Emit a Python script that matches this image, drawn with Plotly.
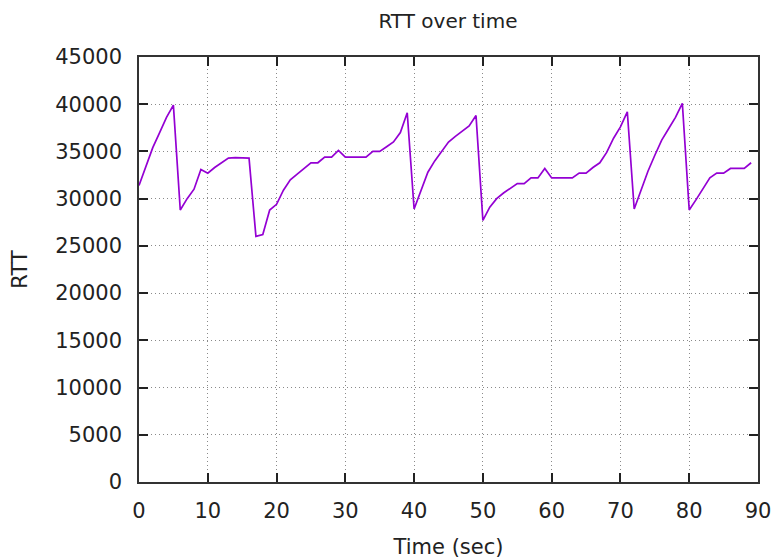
import plotly.graph_objects as go

time_sec = list(range(0, 90))
rtt = [
    31400, 33500, 35400, 37000, 38600, 39900, 28800, 30000, 31000, 33100,
    32700, 33300, 33800, 34300, 34350, 34350, 34300, 26000, 26200, 28800,
    29400, 30900, 32000, 32600, 33200, 33800, 33800, 34400, 34400, 35100,
    34400, 34400, 34400, 34400, 35000, 35000, 35500, 36000, 37000, 39100,
    28900, 30900, 32800, 34000, 35000, 36000, 36600, 37200, 37700, 38800,
    27700, 29100, 30000, 30600, 31100, 31600, 31600, 32200, 32200, 33200,
    32200, 32200, 32200, 32200, 32700, 32700, 33300, 33800, 34900, 36400,
    37600, 39200, 28900, 31000, 32900, 34600, 36200, 37400, 38600, 40100,
    28800, 29900, 31100, 32200, 32700, 32700, 33200, 33200, 33200, 33800,
]

x_ticks = list(range(0, 91, 10))
y_ticks = list(range(0, 45001, 5000))
y_tick_labels = [str(v) for v in y_ticks]

fig = go.Figure()
fig.add_trace(go.Scatter(
    x=time_sec, y=rtt, mode="lines",
    line=dict(color="#9400D3", width=1.7),
    showlegend=False,
))

font_family = "DejaVu Sans, sans-serif"
txt = dict(family=font_family, size=21, color="#222222")
title_txt = dict(family=font_family, size=20, color="#222222")
axis_common = dict(
    showline=True, linecolor="#333333", linewidth=1.5, mirror="ticks",
    ticks="inside", ticklen=9, tickcolor="#222222", tickwidth=1.5,
    showgrid=True, gridcolor="#8a8a8a", griddash="1px,3px", gridwidth=1,
    zeroline=False, automargin=False,
    tickfont=txt,
)

fig.update_layout(
    width=775, height=559,
    margin=dict(l=139, r=17, t=57, b=77),
    paper_bgcolor="white", plot_bgcolor="white",
    title=dict(text="RTT over time", x=0.578, xanchor="center", y=0.962, yanchor="middle",
               font=title_txt),
    xaxis=dict(range=[0, 90], tickvals=x_ticks, ticklabelstandoff=9,
               title=dict(text="Time (sec)", standoff=18, font=txt), **axis_common),
    yaxis=dict(range=[0, 45000], tickvals=y_ticks, ticktext=y_tick_labels, ticklabelstandoff=11,
               title=dict(text="RTT", standoff=22, font=txt), **axis_common),
)

fig.write_html("out.html")
